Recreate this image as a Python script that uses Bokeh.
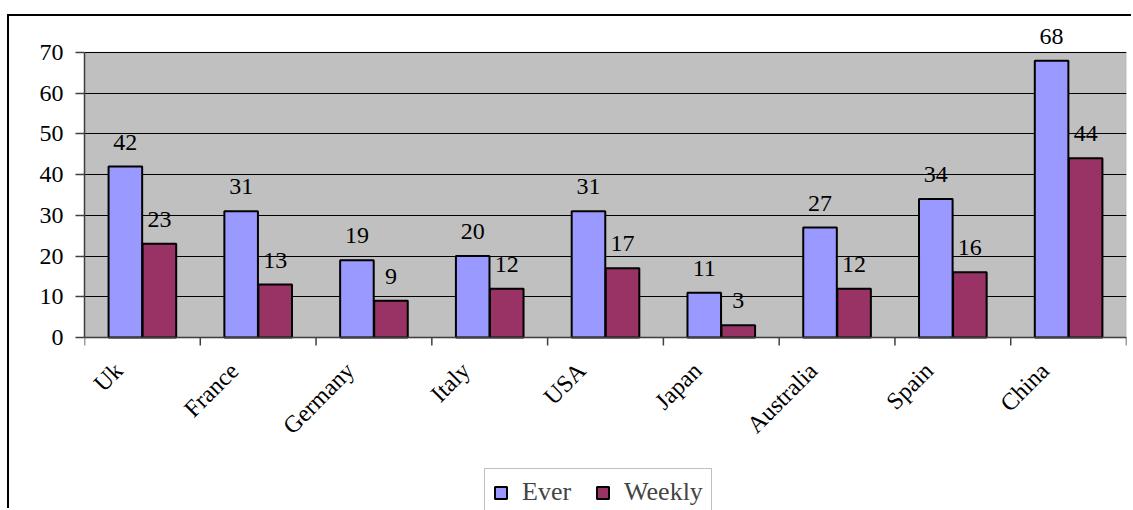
import math
from bokeh.plotting import figure
from bokeh.models import (ColumnDataSource, Range1d, FixedTicker, LabelSet, Legend,
                          LegendItem, BoxAnnotation, Span)
from bokeh.core.properties import value
from bokeh.transform import dodge
from bokeh.embed import file_html
from bokeh.resources import INLINE

categories = ["Uk", "France", "Germany", "Italy", "USA", "Japan", "Australia", "Spain", "China"]
ever = [42, 31, 19, 20, 31, 11, 27, 34, 68]
weekly = [23, 13, 9, 12, 17, 3, 12, 16, 44]
y_ticks = [0, 10, 20, 30, 40, 50, 60, 70]

FONT = "Liberation Serif, Times New Roman, serif"
FS = "24px"
EVER_C = "#9999FF"
WEEK_C = "#993366"
AX_C = "#404040"

# layout geometry (pixels)
CANVAS_W, CANVAS_H = 1124, 494
B_LEFT, B_RIGHT, B_TOP = 75, 7, 4
FRAME_H = CANVAS_H - B_TOP
PLOT_TOP_PX = 32      # distance from frame top to value 70
PLOT_H_PX = 285       # height of the 0..70 band
ymax = y_ticks[-1]
k = PLOT_H_PX / (ymax - y_ticks[0])
y_top = ymax + PLOT_TOP_PX / k
y_bot = y_ticks[0] - (FRAME_H - PLOT_TOP_PX - PLOT_H_PX) / k

n = len(categories)
idx = list(range(n))
src = ColumnDataSource(dict(x=idx, cat=categories, ever=ever, weekly=weekly,
                            ever_t=[str(v) for v in ever],
                            weekly_t=[str(v) for v in weekly]))

p = figure(width=CANVAS_W, height=CANVAS_H, output_backend="svg", toolbar_location=None,
           x_range=Range1d(-0.5, n - 0.5), y_range=Range1d(y_bot, y_top),
           x_axis_location=None,
           min_border_left=B_LEFT, min_border_right=B_RIGHT, min_border_top=B_TOP,
           min_border_bottom=0)
p.styles = {"border-left": "2px solid black", "border-top": "2px solid black",
            "margin-top": "14px", "margin-left": "7px"}

p.background_fill_color = "white"
p.border_fill_color = "white"
p.outline_line_color = None

# grey plot area
p.add_layout(BoxAnnotation(bottom=y_ticks[0], top=ymax, fill_color="#C0C0C0", fill_alpha=1,
                           line_color="#909090", line_width=1.5, level="image"))

off = 0.147
bw = 0.29
r1 = p.vbar(x=dodge("x", -off), top="ever", width=bw, source=src,
            fill_color=EVER_C, line_color="black", line_width=2)
r2 = p.vbar(x=dodge("x", off), top="weekly", width=bw, source=src,
            fill_color=WEEK_C, line_color="black", line_width=2)

for col, o in (("ever", -off), ("weekly", off)):
    p.add_layout(LabelSet(x=dodge("x", o), y=col, text=col + "_t", source=src,
                          text_align="center", text_baseline="alphabetic", y_offset=17,
                          text_font=value(FONT), text_font_size=value(FS),
                          text_color="black"))

# grid
p.xgrid.visible = False
p.ygrid.grid_line_color = "black"
p.ygrid.grid_line_width = 1
p.ygrid.ticker = FixedTicker(ticks=y_ticks)

# y axis
ya = p.yaxis[0]
ya.ticker = FixedTicker(ticks=y_ticks)
ya.bounds = (y_ticks[0], ymax)
ya.axis_line_color = AX_C
ya.axis_line_width = 1.5
ya.major_tick_line_color = AX_C
ya.major_tick_line_width = 1.5
ya.major_tick_in = 0
ya.major_tick_out = 9
ya.minor_tick_line_color = None
ya.major_label_text_font = FONT
ya.major_label_text_font_size = FS
ya.major_label_text_color = "black"
ya.major_label_standoff = 12

# x axis line and category-boundary ticks
p.add_layout(Span(location=y_ticks[0], dimension="width", line_color=AX_C, line_width=1.5))
bounds = [i - 0.5 for i in range(n + 1)]
tick_len = 8 / k
p.segment(x0=bounds, y0=[y_ticks[0]] * len(bounds), x1=bounds,
          y1=[y_ticks[0] - tick_len] * len(bounds), line_color=AX_C, line_width=1.5)

# rotated category labels
p.add_layout(LabelSet(x="x", y=y_ticks[0], text="cat", source=src, angle=math.pi / 4,
                      text_align="right", text_baseline="top", x_offset=-33, y_offset=-20,
                      text_font=value(FONT), text_font_size=value(FS), text_color="black"))

legend = Legend(items=[LegendItem(label="Ever", renderers=[r1]),
                       LegendItem(label="Weekly", renderers=[r2])],
                location=(400, -6), orientation="horizontal",
                label_text_font=FONT, label_text_font_size="26px",
                glyph_width=15, glyph_height=15, label_height=26,
                padding=8, spacing=24, label_standoff=14, margin=0,
                border_line_color="#808080", border_line_width=1.5,
                background_fill_color="white", background_fill_alpha=1)
p.add_layout(legend, "center")

open("out.html", "w").write(file_html(p, INLINE))
